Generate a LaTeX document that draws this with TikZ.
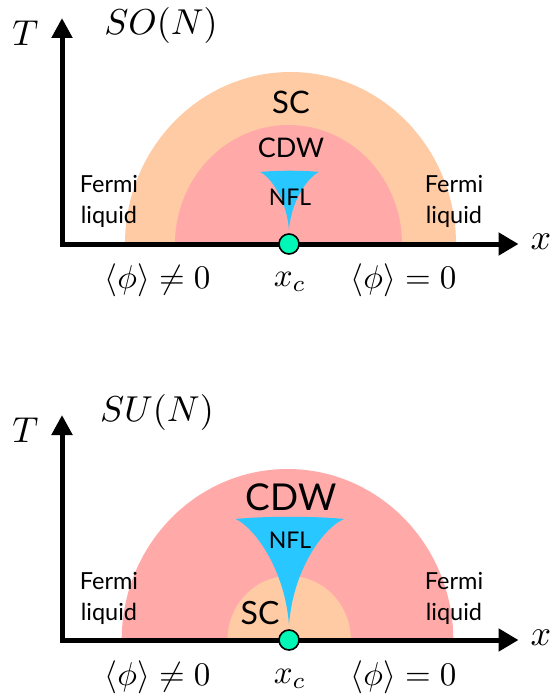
\documentclass[tikz,border=0pt]{standalone}
\usepackage{fontspec}
\newfontfamily\gill{Lato}
\usetikzlibrary{arrows.meta}
\definecolor{scorange}{HTML}{FFCBA4}
\definecolor{cdwpink}{HTML}{FFAAA9}
\definecolor{nflblue}{HTML}{28C7FF}
\definecolor{qcpgreen}{HTML}{00F7B5}
\tikzset{
  axisline/.style={line width=5pt, line join=miter, {Triangle[length=20pt,width=20pt]}-{Triangle[length=20pt,width=22pt]}},
  mathlbl/.style={inner sep=0pt, scale=3.6},
  orderlbl/.style={inner sep=0pt, scale=3.3},
  phase/.style={inner sep=0pt, font=\gill\fontsize{23.5}{31}\selectfont, align=center},
  qcp/.style={circle, draw=black, line width=1.6pt, fill=qcpgreen, minimum size=20pt, inner sep=0pt},
}
\begin{document}
\begin{tikzpicture}[x=1pt,y=-1pt]
\useasboundingbox (0,0) rectangle (553,698);
% ---------------- top panel: SO(N)
\fill[scorange] (125,244) arc[start angle=180,end angle=360,x radius=165.5,y radius=172] -- cycle;
\fill[cdwpink] (175,244) arc[start angle=180,end angle=360,x radius=113.5,y radius=119] -- cycle;
\fill[nflblue] (260,172) .. controls (270.3,176.6) and (286.8,199.7) .. (289,230)
  .. controls (291.2,199.7) and (308.7,176.6) .. (319,172)
  .. controls (303,170.3) and (276,170.3) .. (260,172) -- cycle;
\coordinate (t1top) at (62,18);
\coordinate (t1org) at (62,244);
\coordinate (t1end) at (518.5,244);
\draw[axisline] (t1top) -- (t1org) -- (t1end);
\node[qcp] (qcp1) at (289,244) {};
\node[mathlbl] (T1) at (25.5,33) {$T$};
\node[mathlbl] (G1) at (161,26) {$SO(N)$};
\node[mathlbl] (x1) at (541,242) {$x$};
\node[phase, font=\gill\fontsize{31}{34}\selectfont] (sc1) at (291,102) {SC};
\node[phase, font=\gill\fontsize{27}{30}\selectfont] (cdw1) at (291,148) {CDW};
\node[phase, font=\gill\fontsize{23}{28}\selectfont] (nfl1) at (290,197) {NFL};
\node[phase] (fl1) at (109,201) {Fermi\\liquid};
\node[phase] (fr1) at (454,201) {Fermi\\liquid};
\node[orderlbl] (o1a) at (157.5,280) {$\langle\phi\rangle\neq0$};
\node[orderlbl] (xc1) at (290,282) {$x_c$};
\node[orderlbl] (o1b) at (403.5,280) {$\langle\phi\rangle=0$};
% ---------------- bottom panel: SU(N)
\fill[cdwpink] (121.7,640) arc[start angle=180,end angle=360,x radius=165.8,y radius=171] -- cycle;
\fill[scorange] (227.5,640) arc[start angle=180,end angle=360,x radius=61.7,y radius=64] -- cycle;
\fill[nflblue] (235.6,519) .. controls (255,528) and (285,570) .. (289,625)
  .. controls (293,570) and (323,528) .. (344,519)
  .. controls (315,516) and (265,516) .. (235.6,519) -- cycle;
\coordinate (t2top) at (62,415);
\coordinate (t2org) at (62,640);
\coordinate (t2end) at (518.5,640);
\draw[axisline] (t2top) -- (t2org) -- (t2end);
\node[qcp] (qcp2) at (289,640) {};
\node[mathlbl] (T2) at (25.5,430) {$T$};
\node[mathlbl] (G2) at (157,412) {$SU(N)$};
\node[mathlbl] (x2) at (541,638) {$x$};
\node[phase, font=\gill\fontsize{37}{40}\selectfont] (cdw2) at (291,497) {CDW};
\node[phase, font=\gill\fontsize{23}{28}\selectfont] (nfl2) at (290,540) {NFL};
\node[phase, font=\gill\fontsize{32}{34}\selectfont] (sc2) at (260,613) {SC};
\node[phase] (fl2) at (109,598) {Fermi\\liquid};
\node[phase] (fr2) at (454,598) {Fermi\\liquid};
\node[orderlbl] (o2a) at (157.5,677) {$\langle\phi\rangle\neq0$};
\node[orderlbl] (xc2) at (290,679) {$x_c$};
\node[orderlbl] (o2b) at (403.5,677) {$\langle\phi\rangle=0$};
\end{tikzpicture}
\end{document}
